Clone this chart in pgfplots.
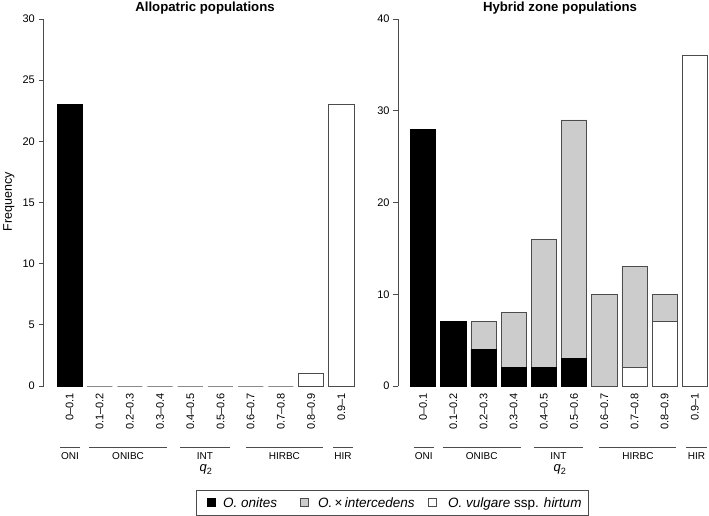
\documentclass[border=0pt]{standalone}
\usepackage{fontspec}
\setmainfont{Liberation Sans}
\usepackage{pgfplots}
\pgfplotsset{compat=1.18}
\definecolor{grey80}{gray}{0.8}
\definecolor{axisgrey}{gray}{0.3}

\pgfplotsset{
  hist/.style={
    scale only axis, clip=false, x=30.2pt,
    axis y line*=left, axis x line*=bottom,
    x axis line style={draw=none},
    y axis line style={axisgrey, line width=0.7pt},
    xtick={0,...,9},
    xticklabels={0--0.1,0.1--0.2,0.2--0.3,0.3--0.4,0.4--0.5,0.5--0.6,0.6--0.7,0.7--0.8,0.8--0.9,0.9--1},
    xtick style={draw=none},
    ytick style={axisgrey, line width=0.7pt},
    tick align=outside, major tick length=5pt,
    tick label style={font=\fontsize{11}{13}\selectfont},
    xticklabel style={rotate=90, anchor=east, inner sep=0pt},
    yticklabel style={inner sep=0pt},
    yticklabel shift=3.5pt,
    xticklabel shift=2pt,
    /pgf/number format/assume math mode=true,
    bar width=25.2pt,
    ymin=0,
  },
  blk/.style={fill=black, draw=black, line width=0.7pt},
  gry/.style={fill=grey80, draw=axisgrey, line width=0.7pt},
  wht/.style={fill=white, draw=axisgrey, line width=0.7pt},
  groups/.code={
    \foreach \a/\b/\t in {-0.31/0.35/ONI, 0.65/3.23/ONIBC, 3.66/5.31/INT, 5.84/8.39/HIRBC, 8.72/9.39/HIR}{
      \edef\tmp{\noexpand\draw[axisgrey, line width=0.7pt] ([yshift=-61pt]axis cs:\a,0) -- ([yshift=-61pt]axis cs:\b,0);
      \noexpand\node[font=\noexpand\fontsize{10}{12}\noexpand\selectfont, anchor=base] at ([yshift=-74pt]axis cs:{(\a+\b)/2},0) {\t};}
      \tmp
    }
  },
}

\begin{document}
\begin{tikzpicture}[x=1pt,y=1pt]
\path[use as bounding box] (0,0) rectangle (709,516);

% Left panel
\begin{axis}[hist, ybar, bar shift=0pt, at={(43.5pt,130pt)}, anchor=south west,
  xmin=-0.86, xmax=9.7, ymax=30, y=12.233pt, ytick={0,5,...,30}]
\addplot[wht] coordinates {(1,0) (2,0) (3,0) (4,0) (5,0) (6,0) (7,0) (8,1) (9,23)};
\addplot[blk] coordinates {(0,23)};
\pgfplotsset{groups}
\end{axis}

% Right panel
\begin{axis}[hist, ybar stacked, at={(398.3pt,130pt)}, anchor=south west,
  xmin=-0.82, xmax=9.45, ymax=40, y=9.175pt, ytick={0,10,...,40}]
\addplot[blk] coordinates {(0,28) (1,7) (2,4) (3,2) (4,2) (5,3) (6,0) (7,0) (8,0) (9,0)};
\addplot[wht] coordinates {(0,0) (1,0) (2,0) (3,0) (4,0) (5,0) (6,0) (7,2) (8,7) (9,36)};
\addplot[gry] coordinates {(0,0) (1,0) (2,3) (3,6) (4,14) (5,26) (6,10) (7,11) (8,3) (9,0)};
\pgfplotsset{groups}
\end{axis}

% Titles
\node[anchor=base, font=\bfseries\fontsize{13.2}{15}\selectfont] at (205,504) {Allopatric populations};
\node[anchor=base, font=\bfseries\fontsize{13.2}{15}\selectfont] at (560,504) {Hybrid zone populations};
% y label
\node[anchor=base, rotate=90, font=\fontsize{12.5}{15}\selectfont] at (12,314) {Frequency};
% x labels
\node[anchor=base, font=\fontsize{13}{15}\selectfont] at (206,44) {\textit{q}\textsubscript{2}};
\node[anchor=base, font=\fontsize{13}{15}\selectfont] at (560,44) {\textit{q}\textsubscript{2}};

% Legend
\draw[axisgrey, line width=0.7pt] (196,1) rectangle (588,26);
\begin{scope}[font=\fontsize{13.5}{15}\selectfont]
\draw[black, fill=black, line width=0.6pt] (207,9.5) rectangle (215,17.5);
\node[anchor=base west, inner sep=0pt] at (223,8) {\textit{O. onites}};
\draw[axisgrey, fill=grey80, line width=0.6pt] (300,9.5) rectangle (308,17.5);
\node[anchor=base west, inner sep=0pt] at (318,8) {\textit{O.\,}×\,\textit{intercedens}};
\draw[axisgrey, fill=white, line width=0.6pt] (428,9.5) rectangle (436,17.5);
\node[anchor=base west, inner sep=0pt] at (448,8) {\textit{O. vulgare} ssp. \textit{hirtum}};
\end{scope}
\end{tikzpicture}
\end{document}
